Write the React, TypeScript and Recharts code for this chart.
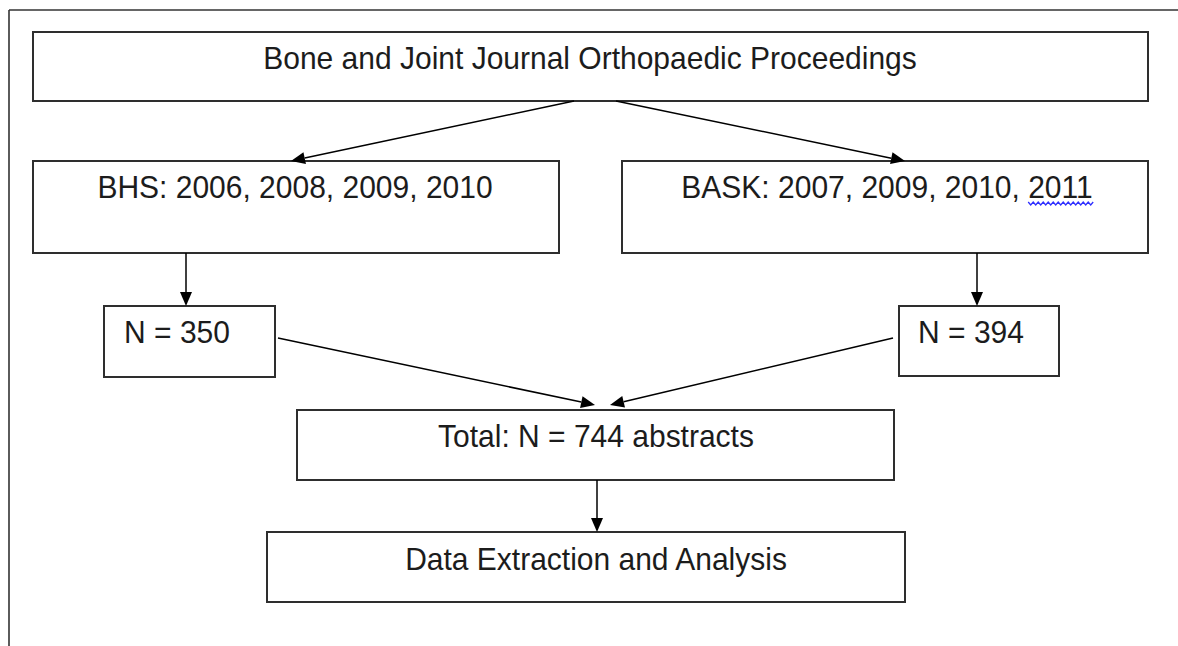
import { ScatterChart, Scatter, XAxis, YAxis, ReferenceArea, ReferenceLine } from 'recharts';

// page is 1178 x 646, diagram units are the same as picture pixels
const W = 1178;
const H = 646;

const boxes = [
  { id: 'source', x1: 33, x2: 1148, y1: 32, y2: 101 },
  { id: 'bhs', x1: 33, x2: 559, y1: 161, y2: 253 },
  { id: 'bask', x1: 622, x2: 1148, y1: 161, y2: 253 },
  { id: 'n350', x1: 104, x2: 275, y1: 306, y2: 377 },
  { id: 'n394', x1: 899, x2: 1059, y1: 306, y2: 376 },
  { id: 'total', x1: 297, x2: 894, y1: 410, y2: 480 },
  { id: 'analysis', x1: 267, x2: 905, y1: 532, y2: 602 },
];

const labels = [
  { x: 590, y: 69, text: 'Bone and Joint Journal Orthopaedic Proceedings' },
  { x: 295, y: 198, text: 'BHS: 2006, 2008, 2009, 2010' },
  { x: 887, y: 198, text: 'BASK: 2007, 2009, 2010, 2011', squiggle: '2011' },
  { x: 177, y: 343, text: 'N = 350' },
  { x: 971, y: 343, text: 'N = 394' },
  { x: 596, y: 447, text: 'Total: N = 744 abstracts' },
  { x: 596, y: 570, text: 'Data Extraction and Analysis' },
];

const arrows = [
  { from: { x: 574, y: 101 }, to: { x: 291, y: 161 } },
  { from: { x: 616, y: 101 }, to: { x: 905, y: 161 } },
  { from: { x: 186, y: 253 }, to: { x: 186, y: 306 } },
  { from: { x: 977, y: 253 }, to: { x: 977, y: 306 } },
  { from: { x: 278, y: 338 }, to: { x: 595, y: 405 } },
  { from: { x: 893, y: 338 }, to: { x: 610, y: 405 } },
  { from: { x: 597, y: 480 }, to: { x: 597, y: 532 } },
];

// the page frame: only top and left edges show
const frame = [
  { from: { x: 9, y: 10 }, to: { x: W, y: 10 } },
  { from: { x: 9, y: 10 }, to: { x: 9, y: H } },
];

const FONT = '"Liberation Sans", Arial, sans-serif';
const FONT_SIZE = 30;
const BOX_STROKE = '#2e2e2e';

let ctx: CanvasRenderingContext2D | null = null;
const measure = (s: string) => {
  if (!ctx) ctx = document.createElement('canvas').getContext('2d');
  if (!ctx) return s.length * FONT_SIZE * 0.55;
  ctx.font = `${FONT_SIZE}px ${FONT}`;
  return ctx.measureText(s).width;
};

const ArrowShape = (props: any) => {
  const { x1, y1, x2, y2 } = props;
  const dx = x2 - x1;
  const dy = y2 - y1;
  const len = Math.sqrt(dx * dx + dy * dy) || 1;
  const ux = dx / len;
  const uy = dy / len;
  const head = 14;
  const half = 6;
  const bx = x2 - ux * head;
  const by = y2 - uy * head;
  const pts = `${x2},${y2} ${bx - uy * half},${by + ux * half} ${bx + uy * half},${by - ux * half}`;
  return (
    <g>
      <line x1={x1} y1={y1} x2={bx} y2={by} stroke="#000" strokeWidth={1.5} />
      <polygon points={pts} fill="#000" />
    </g>
  );
};

const FrameShape = (props: any) => {
  const { x1, y1, x2, y2 } = props;
  return <line x1={x1} y1={y1} x2={x2} y2={y2} stroke="#333" strokeWidth={1.6} />;
};

const LabelShape = (props: any) => {
  const { cx, cy, payload } = props;
  let squiggle = null;
  if (payload.squiggle) {
    // spell-check style wavy underline under the last word
    const full = measure(payload.text);
    const word = measure(payload.squiggle);
    const end = cx + full / 2;
    const start = end - word;
    let d = `M${start},${cy + 4}`;
    for (let x = start, i = 0; x < end; x += 2.5, i++) {
      d += ` L${x + 2.5},${cy + (i % 2 === 0 ? 7 : 4)}`;
    }
    squiggle = <path d={d} fill="none" stroke="#2f2fff" strokeWidth={1.3} />;
  }
  return (
    <g>
      <text
        transform={`translate(${cx},${cy}) scale(1,1.05)`}
        textAnchor="middle"
        fontFamily={FONT}
        fontSize={FONT_SIZE}
        fill="#1c1c1c"
      >
        {payload.text}
      </text>
      {squiggle}
    </g>
  );
};

export default function App() {
  return (
    <div style={{ position: 'fixed', left: 0, top: 0, width: W, height: H, background: '#fff' }}>
      <ScatterChart width={W} height={H} margin={{ top: 0, right: 0, bottom: 0, left: 0 }}>
        <XAxis type="number" dataKey="x" domain={[0, W]} hide />
        <YAxis type="number" dataKey="y" domain={[0, H]} reversed hide />

        {frame.map((f, i) => (
          <ReferenceLine key={`f${i}`} segment={[f.from, f.to]} ifOverflow="visible" shape={<FrameShape />} />
        ))}

        {boxes.map((b) => (
          <ReferenceArea
            key={b.id}
            x1={b.x1}
            x2={b.x2}
            y1={b.y1}
            y2={b.y2}
            fill="#fff"
            fillOpacity={1}
            stroke={BOX_STROKE}
            strokeWidth={2}
            ifOverflow="visible"
          />
        ))}

        {arrows.map((a, i) => (
          <ReferenceLine key={`a${i}`} segment={[a.from, a.to]} ifOverflow="visible" shape={<ArrowShape />} />
        ))}

        <Scatter data={labels} shape={<LabelShape />} isAnimationActive={false} />
      </ScatterChart>
    </div>
  );
}
